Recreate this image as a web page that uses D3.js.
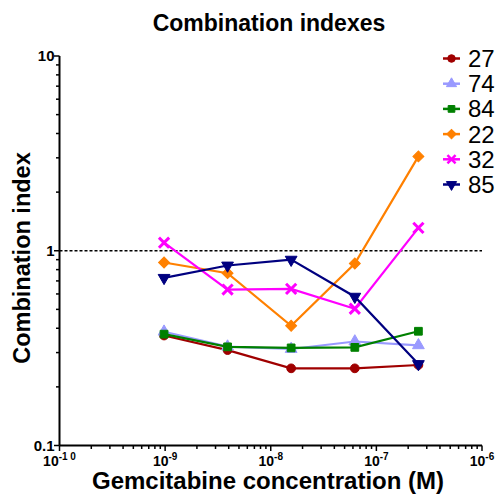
<!DOCTYPE html>
<html>
<head>
<meta charset="utf-8">
<script src="https://cdn.jsdelivr.net/npm/d3@7"></script>
<style>
  body { margin: 0; background: #fff; }
  svg { font-family: "Liberation Sans", Arial, sans-serif; }
</style>
</head>
<body>
<div class="chart"></div>
<script>
// doses (M) and combination index per cell line
const doses = [0.977e-9, 3.9e-9, 15.6e-9, 62.5e-9, 250e-9]
const seriesNames = ["27", "74", "84", "22", "32", "85"]
const ci27 = [0.367, 0.309, 0.249, 0.249, 0.259]
const ci74 = [0.384, 0.322, 0.313, 0.342, 0.327]
const ci84 = [0.373, 0.321, 0.317, 0.319, 0.386]
const ci22 = [0.87, 0.767, 0.412, 0.86, 3.05]
const ci32 = [1.1, 0.632, 0.637, 0.504, 1.31]
const ci85 = [0.726, 0.84, 0.9, 0.581, 0.262]
const xTickExps = [-10, -9, -8, -7, -6]
const yTickLabels = ["0.1", "1", "10"]

const seriesValues = [ci27, ci74, ci84, ci22, ci32, ci85]
const colors = ["#a00000", "#9999ff", "#008000", "#ff8000", "#ff00ff", "#000080"]
const symbols = ["circle", "triUp", "square", "diamond", "times", "triDown"]

const width = 498
const height = 504
const margin = { top: 56, right: 16, bottom: 58.5, left: 59.5 }

const svg = d3.select(".chart").append("svg")
  .attr("width", width)
  .attr("height", height)

const x = d3.scaleLog()
  .domain([1e-10, 1e-6])
  .range([margin.left, width - margin.right])

const y = d3.scaleLog()
  .domain([0.1, 10])
  .range([height - margin.bottom, margin.top])

// minor ticks 2..9 within each decade
const minor = (lo, hi) => {
  const out = []
  for (let e = lo; e < hi; e++) for (let k = 2; k <= 9; k++) out.push(k * Math.pow(10, e))
  return out
}

// x axis
const xg = svg.append("g").attr("transform", `translate(0,${y(0.1)})`)
xg.append("line").attr("x1", x(1e-10)).attr("x2", x(1e-6)).attr("stroke", "#000").attr("stroke-width", 2)
xg.selectAll(".minor").data(minor(-10, -6)).join("line")
  .attr("x1", (d) => x(d)).attr("x2", (d) => x(d))
  .attr("y1", 0).attr("y2", 3.5).attr("stroke", "#000").attr("stroke-width", 1.5)
xg.selectAll(".major").data(xTickExps).join("line")
  .attr("x1", (d) => x(Math.pow(10, d))).attr("x2", (d) => x(Math.pow(10, d)))
  .attr("y1", 0).attr("y2", 5.5).attr("stroke", "#000").attr("stroke-width", 1.5)
const xl = xg.selectAll(".lbl").data(xTickExps).join("text")
  .attr("x", (d) => x(Math.pow(10, d)))
  .attr("y", 20)
  .attr("text-anchor", "middle")
  .attr("font-size", 14)
  .attr("font-weight", "bold")
xl.append("tspan").text("10")
xl.append("tspan").attr("dy", -6).attr("font-size", 10).text((d) => "-" + String(-d).split("").join(" "))

// y axis
const yg = svg.append("g").attr("transform", `translate(${x(1e-10)},0)`)
yg.append("line").attr("y1", y(0.1)).attr("y2", y(10)).attr("stroke", "#000").attr("stroke-width", 2)
yg.selectAll(".minor").data(minor(-1, 1)).join("line")
  .attr("y1", (d) => y(d)).attr("y2", (d) => y(d))
  .attr("x1", 0).attr("x2", -3.5).attr("stroke", "#000").attr("stroke-width", 1.5)
yg.selectAll(".major").data(yTickLabels).join("line")
  .attr("y1", (d) => y(+d)).attr("y2", (d) => y(+d))
  .attr("x1", 0).attr("x2", -5.5).attr("stroke", "#000").attr("stroke-width", 1.5)
yg.selectAll(".lbl").data(yTickLabels).join("text")
  .attr("x", -5)
  .attr("y", (d) => y(+d) + 5)
  .attr("text-anchor", "end")
  .attr("font-size", 15)
  .attr("font-weight", "bold")
  .text((d) => d)

// reference line at CI = 1
svg.append("line")
  .attr("x1", x(1e-10)).attr("x2", x(1e-6))
  .attr("y1", y(1)).attr("y2", y(1))
  .attr("stroke", "#000").attr("stroke-width", 1.5)
  .attr("stroke-dasharray", "3,2")

const symPath = (name, size) => {
  const map = {
    circle: d3.symbolCircle, triUp: d3.symbolTriangle, square: d3.symbolSquare,
    diamond: d3.symbolSquare, times: d3.symbolTimes, triDown: d3.symbolTriangle,
  }
  return d3.symbol(map[name], size)()
}
const symRot = (name) => name === "triDown" ? " rotate(180)" : name === "diamond" ? " rotate(45)" : ""

const line = d3.line().x((d, i) => x(doses[i])).y((d) => y(d))

seriesValues.forEach((vals, s) => {
  const g = svg.append("g")
  g.append("path")
    .attr("d", line(vals))
    .attr("fill", "none")
    .attr("stroke", colors[s])
    .attr("stroke-width", 2.2)
  g.selectAll("path.m").data(vals).join("path")
    .attr("class", "m")
    .attr("d", symPath(symbols[s], symbols[s] === "times" ? 70 : 60))
    .attr("transform", (d, i) => `translate(${x(doses[i])},${y(d)})` + symRot(symbols[s]))
    .attr("fill", symbols[s] === "times" ? "none" : colors[s])
    .attr("stroke", colors[s])
    .attr("stroke-width", symbols[s] === "times" ? 3 : 1)
})

// legend
const legend = svg.append("g")
seriesNames.forEach((name, s) => {
  const ly = 58.5 + s * 25.2
  legend.append("line")
    .attr("x1", 443).attr("x2", 460).attr("y1", ly).attr("y2", ly)
    .attr("stroke", colors[s]).attr("stroke-width", 2.5)
  legend.append("path")
    .attr("d", symPath(symbols[s], 45))
    .attr("transform", `translate(451.5,${ly})` + symRot(symbols[s]))
    .attr("fill", symbols[s] === "times" ? "none" : colors[s])
    .attr("stroke", colors[s])
    .attr("stroke-width", symbols[s] === "times" ? 2.5 : 1)
  legend.append("text")
    .attr("x", 468).attr("y", ly + 8.5)
    .attr("font-size", 24)
    .text(name)
})

// titles
svg.append("text")
  .attr("x", 269).attr("y", 31)
  .attr("text-anchor", "middle")
  .attr("font-size", 23).attr("font-weight", "bold")
  .text("Combination indexes")

svg.append("text")
  .attr("x", 268).attr("y", 489)
  .attr("text-anchor", "middle")
  .attr("font-size", 24).attr("font-weight", "bold")
  .text("Gemcitabine concentration (M)")

svg.append("text")
  .attr("transform", `translate(30,258) rotate(-90)`)
  .attr("text-anchor", "middle")
  .attr("font-size", 23.5).attr("font-weight", "bold")
  .text("Combination index")
</script>
</body>
</html>
